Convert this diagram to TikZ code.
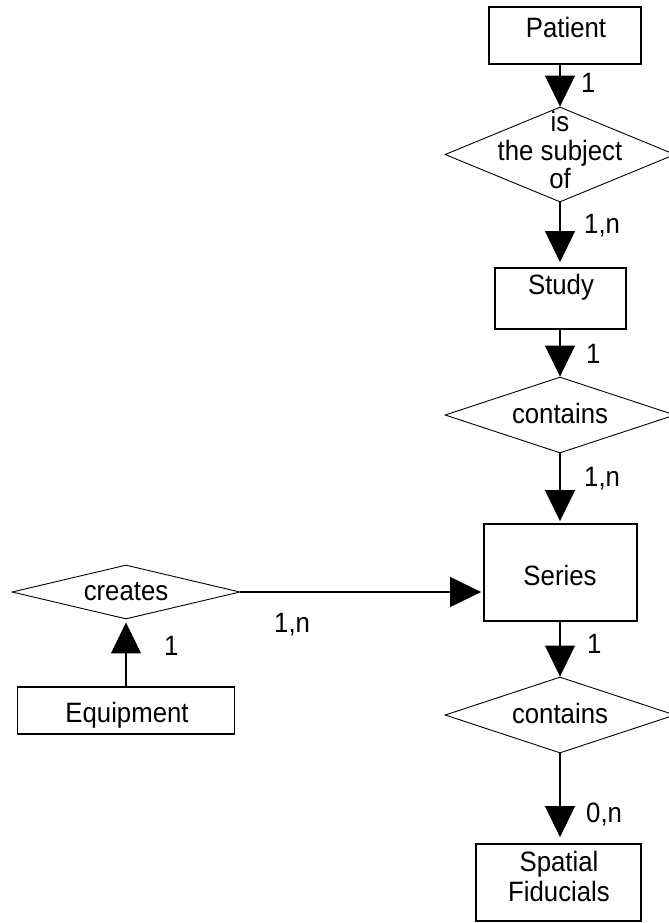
\documentclass[tikz,border=0pt]{standalone}
\usepackage{fontspec}
\setmainfont{Liberation Sans}
\newfontfamily\erfont[FakeStretch=0.92]{Liberation Sans}
\usetikzlibrary{shapes.geometric,arrows.meta}
\begin{document}
\begin{tikzpicture}[x=1bp,y=-1bp,
  ent/.style={draw, rectangle, line width=1.8bp, inner sep=0pt},
  rel/.style={draw, diamond, line width=0.9bp, inner sep=0pt},
  txt/.style={font=\erfont\fontsize{28bp}{29bp}\selectfont, inner sep=0pt, align=center},
  card/.style={font=\erfont\fontsize{28bp}{29bp}\selectfont, inner sep=0pt, anchor=base west},
  conn/.style={line width=1.1bp, -{Triangle[width=30bp,length=31bp]}},
  ]
\fill[white] (0,0) rectangle (669,923);
\useasboundingbox (0,0) rectangle (669,923);

% entities
\node[ent, minimum width=152bp, minimum height=57bp] (patient) at (565,35.5) {};
\node[ent, minimum width=131bp, minimum height=61bp] (study) at (560.5,298.5) {};
\node[ent, minimum width=153bp, minimum height=97bp] (series) at (560.5,572.5) {};
\node[ent, minimum width=217bp, minimum height=47bp] (equipment) at (126,710.5) {};
\node[ent, minimum width=165bp, minimum height=77bp] (spatial) at (558.5,882.5) {};

% relationships
\node[rel, minimum width=230bp, minimum height=95bp] (subj) at (560,154.5) {};
\node[rel, minimum width=230bp, minimum height=76bp] (cont1) at (560,415) {};
\node[rel, minimum width=228bp, minimum height=54bp] (creates) at (126,592) {};
\node[rel, minimum width=230bp, minimum height=76bp] (cont2) at (560,715) {};

% texts
\node[txt, anchor=base] (patientT) at (566,37) {Patient};
\node[txt, anchor=base] (studyT) at (561,294) {Study};
\node[txt, anchor=base] (seriesT) at (560,585) {Series};
\node[txt, anchor=base] (equipmentT) at (127,722) {Equipment};
\node[txt, font=\erfont\fontsize{28bp}{29.5bp}\selectfont] (spatialT) at (559,876.5) {Spatial\\Fiducials};
\node[txt, font=\erfont\fontsize{28bp}{28.5bp}\selectfont] (subjT) at (560,150) {is\\the subject\\of};
\node[txt, anchor=base] (cont1T) at (560,423) {contains};
\node[txt, anchor=base] (createsT) at (126,600) {creates};
\node[txt, anchor=base] (cont2T) at (560,723) {contains};

% connectors
\draw[conn] (subj.north |- patient.south) -- (subj.north);
\draw[conn, shorten >=5bp] (subj.south) -- (subj.south |- study.north);
\draw[conn] (cont1.north |- study.south) -- (cont1.north);
\draw[conn, shorten >=2bp] (cont1.south) -- (cont1.south |- series.north);
\draw[conn, shorten >=2bp] (creates.east) -- (creates.east -| series.west);
\draw[conn, shorten >=3bp] (equipment.north) -- (creates.south);
\draw[conn] (cont2.north |- series.south) -- (cont2.north);
\draw[conn, shorten >=6bp] (cont2.south) -- (cont2.south |- spatial.north);

% cardinalities
\node[card] (c1) at (581,92) {1};
\node[card] (c2) at (584,233) {1,n};
\node[card] (c3) at (586,363) {1};
\node[card] (c4) at (584,486) {1,n};
\node[card] (c5) at (274,632) {1,n};
\node[card] (c6) at (164,655) {1};
\node[card] (c7) at (587,653) {1};
\node[card] (c8) at (586,822) {0,n};
\end{tikzpicture}
\end{document}
